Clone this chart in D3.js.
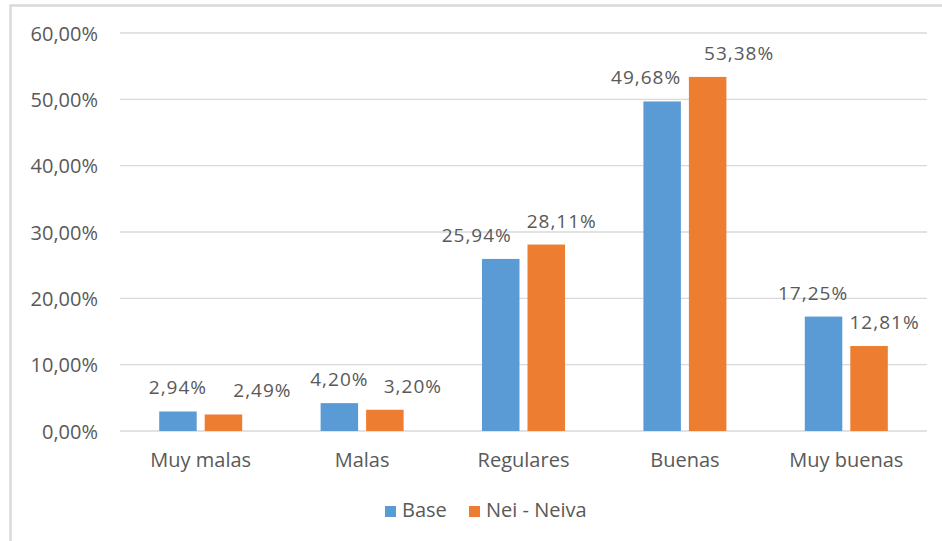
<!DOCTYPE html>
<html>
<head>
<meta charset="utf-8">
<script src="https://cdn.jsdelivr.net/npm/d3@7"></script>
<style>
  html, body { margin: 0; padding: 0; background: #fff; }
  svg { display: block; }
  text { font-family: "Open Sans", "Noto Sans", sans-serif; fill: #595959; }
</style>
</head>
<body>
<script>
const categories = ["Muy malas", "Malas", "Regulares", "Buenas", "Muy buenas"];
const seriesNames = ["Base", "Nei - Neiva"];
const baseValues = [2.94, 4.20, 25.94, 49.68, 17.25];
const neivaValues = [2.49, 3.20, 28.11, 53.38, 12.81];
const yTicks = [0, 10, 20, 30, 40, 50, 60];
const colors = ["#5B9BD5", "#ED7D31"];

// layout: horizontal nudges of data labels (as placed in the original chart, px)
const labelNudge = [[0, 0, -24, -16, -10.5], [39, 28, 15.5, 31.5, 15.5]];

const W = 942, H = 541;
const svg = d3.select("body").append("svg").attr("width", W).attr("height", H);

// chart border
svg.append("rect").attr("x", 10.5).attr("y", 5.5).attr("width", 1000).attr("height", 1000)
  .attr("fill", "none").attr("stroke", "#d9d9d9").attr("stroke-width", 2.5);

const x = d3.scaleBand().domain(categories).range([120, 927]).padding(0);
const y = d3.scaleLinear().domain([0, 60]).range([431, 33]);
const fmt = v => d3.format(".2f")(v).replace(".", ",") + "%";

// gridlines
svg.append("g").selectAll("line").data(yTicks).join("line")
  .attr("x1", 120).attr("x2", 927)
  .attr("y1", d => y(d)).attr("y2", d => y(d))
  .attr("stroke", "#d9d9d9").attr("stroke-width", 1.3);

// y axis labels
const yAxis = d3.axisLeft(y).tickValues(yTicks).tickSize(0).tickPadding(0).tickFormat(fmt);
const yg = svg.append("g").attr("transform", "translate(98,0)").call(yAxis);
yg.select(".domain").remove();
yg.selectAll("text").style("font-size", "20px").attr("fill", "#595959").attr("dy", "0.36em")
  .style("font-family", "'Open Sans', sans-serif");

// x axis labels
const xAxis = d3.axisBottom(x).tickSize(0).tickPadding(0);
const xg = svg.append("g").attr("transform", "translate(0,467)").call(xAxis);
xg.select(".domain").remove();
xg.selectAll("text").style("font-size", "20px").attr("fill", "#595959").attr("dy", "0em").attr("y", 0)
  .style("font-family", "'Open Sans', sans-serif");

const data = categories.map((c, i) => ({ cat: c, i, vals: [baseValues[i], neivaValues[i]] }));
const inner = d3.scaleBand().domain([0, 1]).paddingInner(0.176).paddingOuter(0).range([0, 83]);

const groups = svg.append("g").selectAll("g").data(data).join("g")
  .attr("transform", d => `translate(${x(d.cat) + x.bandwidth() / 2 - 41.5},0)`);

groups.selectAll("rect").data(d => d.vals.map((v, k) => ({ v, k }))).join("rect")
  .attr("x", d => inner(d.k)).attr("width", inner.bandwidth())
  .attr("y", d => y(d.v)).attr("height", d => y(0) - y(d.v))
  .attr("fill", d => colors[d.k]);

groups.selectAll("text").data(d => d.vals.map((v, k) => ({ v, k, i: d.i }))).join("text")
  .attr("x", d => inner(d.k) + inner.bandwidth() / 2 + labelNudge[d.k][d.i])
  .attr("y", d => y(d.v) - 17)
  .attr("text-anchor", "middle")
  .style("font-size", "19px")
  .style("letter-spacing", "1px")
  .text(d => fmt(d.v));

// legend
const legend = svg.append("g");
const legX = [385, 469];
seriesNames.forEach((s, k) => {
  legend.append("rect").attr("x", legX[k]).attr("y", 506).attr("width", 11).attr("height", 11).attr("fill", colors[k]);
  legend.append("text").attr("x", legX[k] + 17).attr("y", 517)
    .style("font-size", "20px").text(s);
});
</script>
</body>
</html>
